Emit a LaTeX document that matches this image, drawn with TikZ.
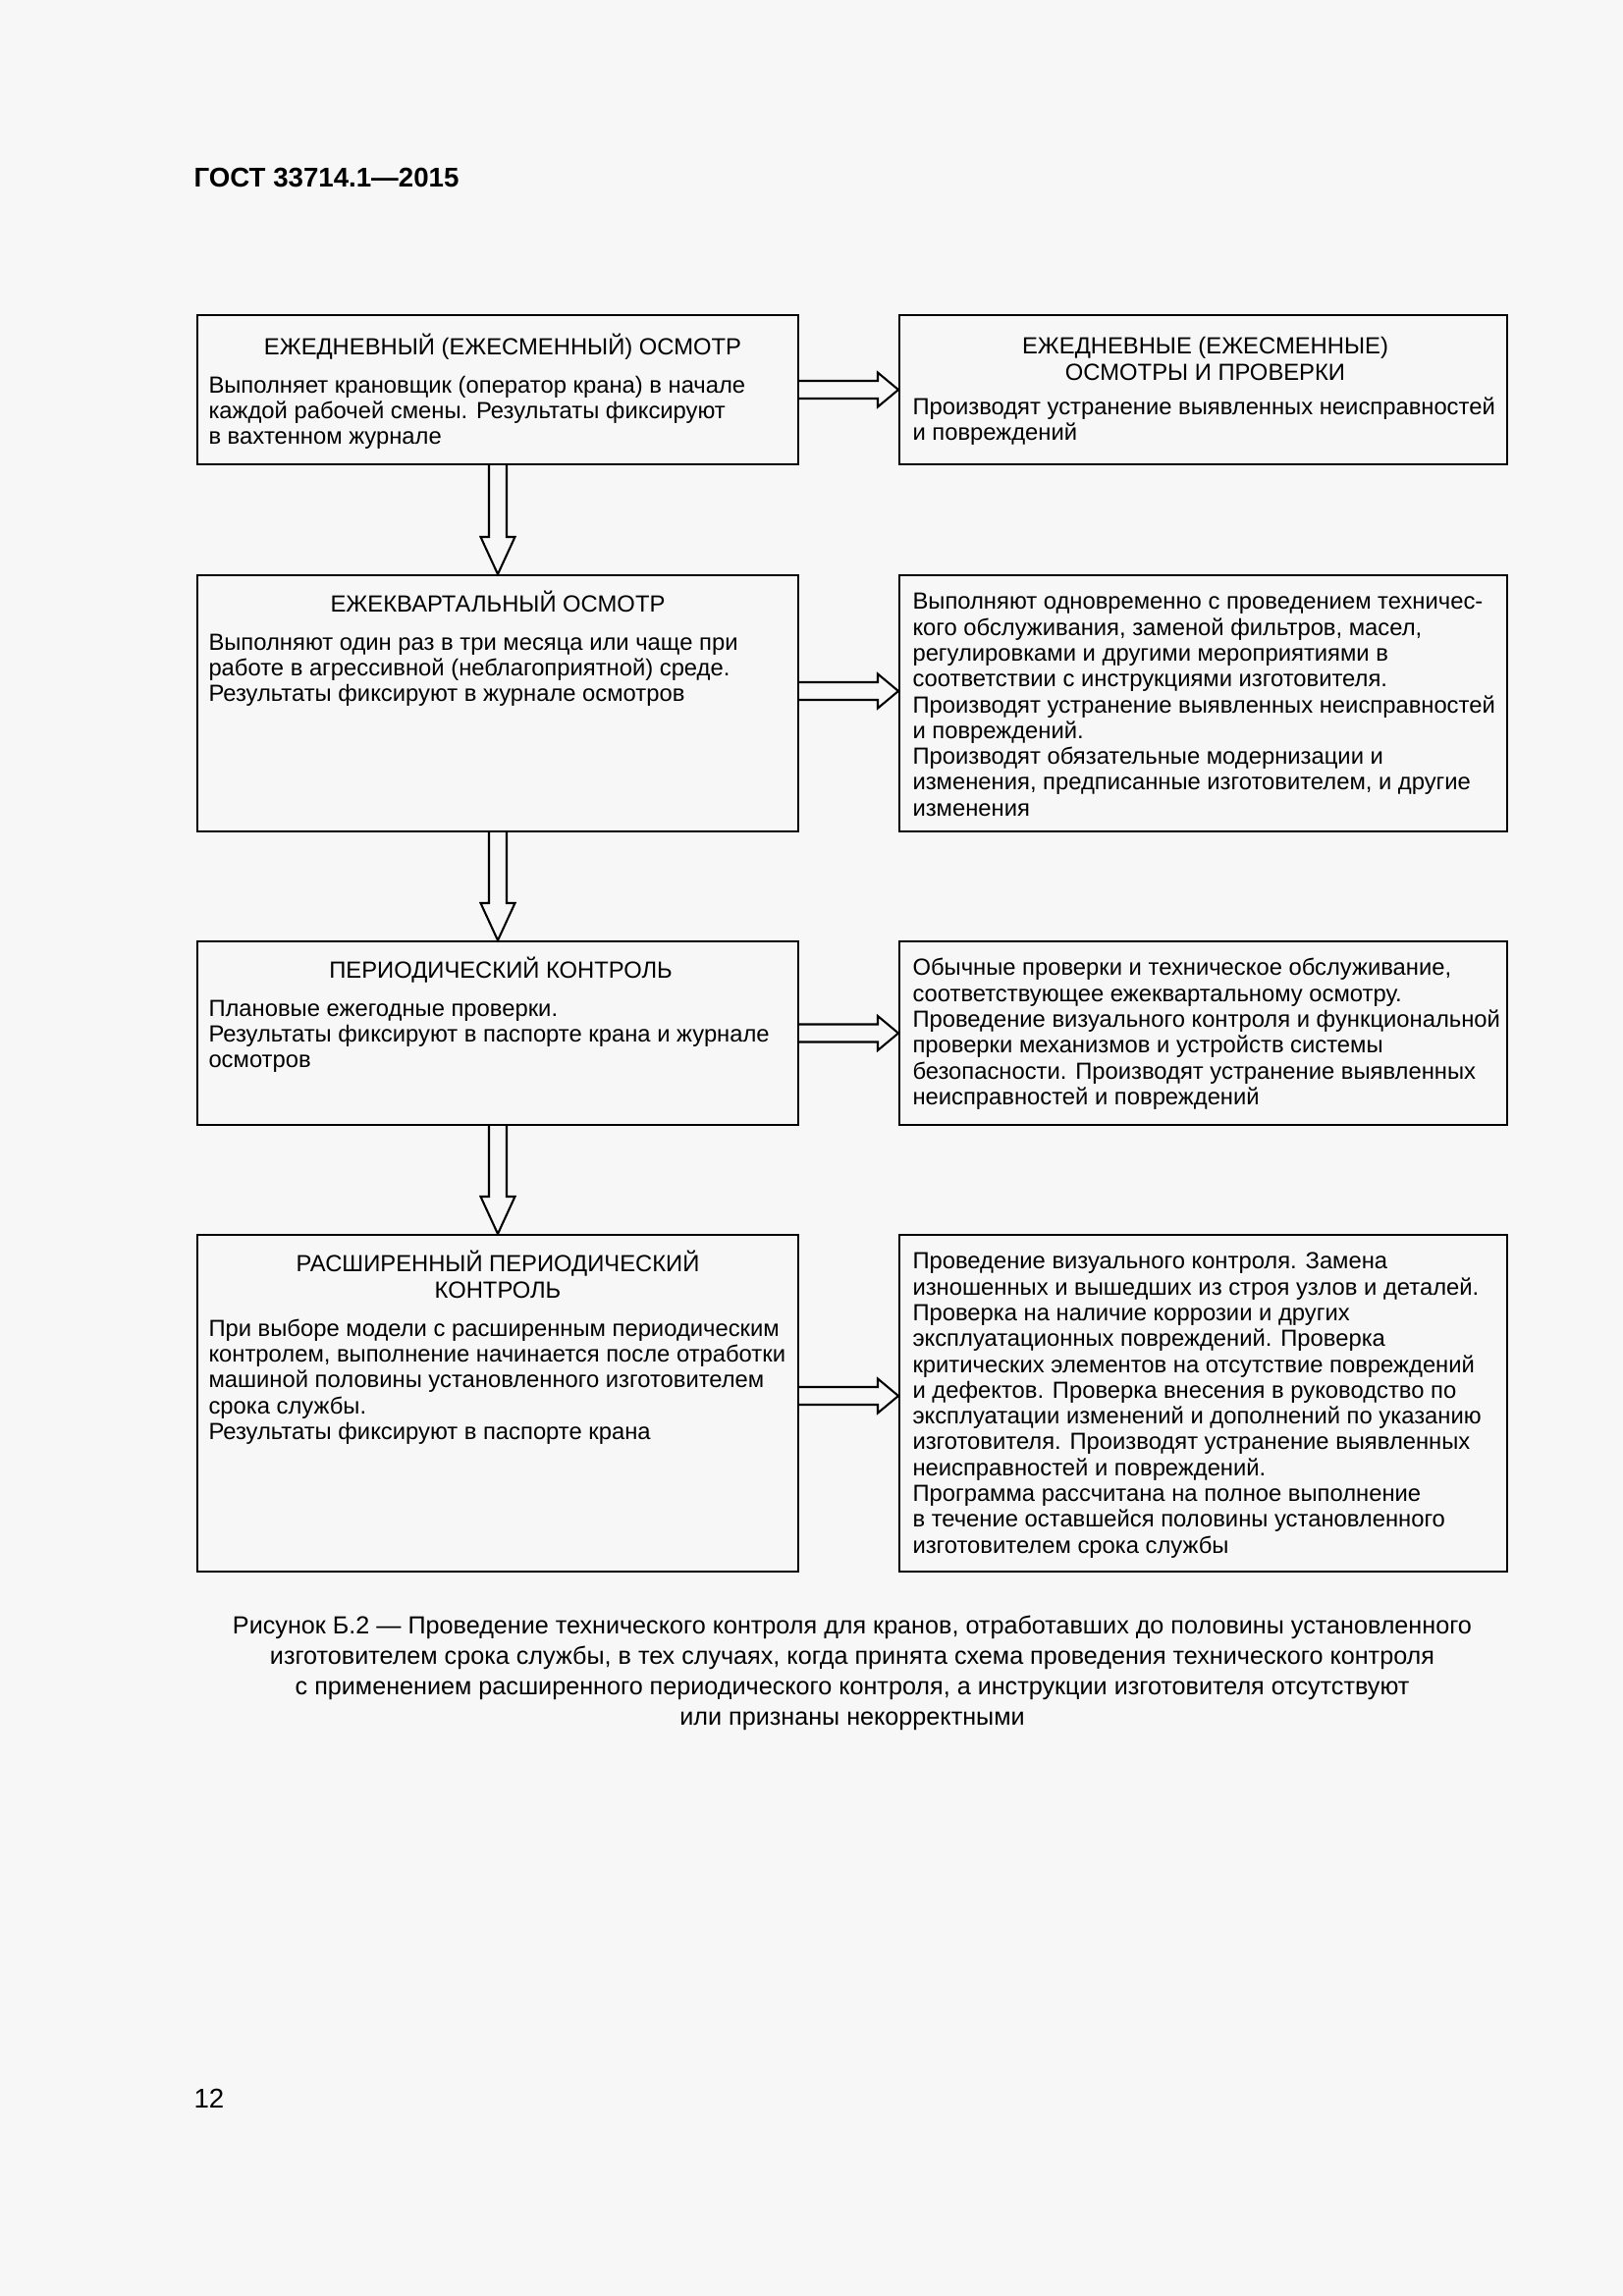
\documentclass[tikz,border=0pt]{standalone}
\usepackage{fontspec}
\setmainfont{Liberation Sans}
\usetikzlibrary{calc,fit}
\definecolor{pagebg}{RGB}{247,247,247}
\newcommand{\boxstrut}{\rule{0pt}{9pt}}
\tikzset{
	box/.style={draw, line width=0.75pt, inner sep=0pt},
	boxtitle/.style={anchor=north, align=center, inner sep=0pt, font=\fontsize{8.6}{9.5}\selectfont},
	boxbody/.style={anchor=north west, align=left, inner sep=0pt, font=\fontsize{8.6}{9.5}\selectfont},
	fatarrow/.style={line width=0.75pt, line join=miter},
}
\begin{document}
\begin{tikzpicture}[x=0.12704mm, y=-0.12704mm]

	\fill[pagebg] (0,0) rectangle (1653,2339);

	\node[anchor=base west, inner sep=0pt, font=\fontsize{10}{12}\selectfont\bfseries] (head) at (197,190.5) {ГОСТ 33714.1—2015};

	% left column
	\node[box, fit={(201,321) (813,473)}] (daily) {};
	\node[box, fit={(201,586) (813,847)}] (quarter) {};
	\node[box, fit={(201,959) (813,1146)}] (period) {};
	\node[box, fit={(201,1258) (813,1601)}] (ext) {};

	% right column
	\node[box, fit={(916,321) (1535,473)}] (dailyR) {};
	\node[box, fit={(916,586) (1535,847)}] (quarterR) {};
	\node[box, fit={(916,959) (1535,1146)}] (periodR) {};
	\node[box, fit={(916,1258) (1535,1601)}] (extR) {};

	\node[boxtitle] (dailyT) at ($(daily.north)+(5,16.5)$) {\boxstrut ЕЖЕДНЕВНЫЙ (ЕЖЕСМЕННЫЙ) ОСМОТР};
	\node[boxbody] (dailyB) at ($(daily.north west)+(12,55)$) {\boxstrut Выполняет крановщик (оператор крана) в начале\\каждой рабочей смены. Результаты фиксируют\\в вахтенном журнале};

	\node[boxtitle] (dailyRT) at ($(dailyR.north)+(2,15.5)$) {\boxstrut ЕЖЕДНЕВНЫЕ (ЕЖЕСМЕННЫЕ)\\ОСМОТРЫ И ПРОВЕРКИ};
	\node[boxbody] (dailyRB) at ($(dailyR.north west)+(14,77)$) {\boxstrut Производят устранение выявленных неисправностей\\и повреждений};

	\node[boxtitle] (quarterT) at ($(quarter.north)+(0,13.5)$) {\boxstrut ЕЖЕКВАРТАЛЬНЫЙ ОСМОТР};
	\node[boxbody] (quarterB) at ($(quarter.north west)+(12,52)$) {\boxstrut Выполняют один раз в три месяца или чаще при\\работе в агрессивной (неблагоприятной) среде.\\Результаты фиксируют в журнале осмотров};

	\node[boxbody] (quarterRB) at ($(quarterR.north west)+(14,10.5)$) {\boxstrut Выполняют одновременно с проведением техничес-\\кого обслуживания, заменой фильтров, масел,\\регулировками и другими мероприятиями в\\соответствии с инструкциями изготовителя.\\Производят устранение выявленных неисправностей\\и повреждений.\\Производят обязательные модернизации и\\изменения, предписанные изготовителем, и другие\\изменения};

	\node[boxtitle] (periodT) at ($(period.north)+(3,13.5)$) {\boxstrut ПЕРИОДИЧЕСКИЙ КОНТРОЛЬ};
	\node[boxbody] (periodB) at ($(period.north west)+(12,52)$) {\boxstrut Плановые ежегодные проверки.\\Результаты фиксируют в паспорте крана и журнале\\осмотров};

	\node[boxbody] (periodRB) at ($(periodR.north west)+(14,10.5)$) {\boxstrut Обычные проверки и техническое обслуживание,\\соответствующее ежеквартальному осмотру.\\Проведение визуального контроля и функциональной\\проверки механизмов и устройств системы\\безопасности. Производят устранение выявленных\\неисправностей и повреждений};

	\node[boxtitle] (extT) at ($(ext.north)+(0,13.5)$) {\boxstrut РАСШИРЕННЫЙ ПЕРИОДИЧЕСКИЙ\\КОНТРОЛЬ};
	\node[boxbody] (extB) at ($(ext.north west)+(12,79)$) {\boxstrut При выборе модели с расширенным периодическим\\контролем, выполнение начинается после отработки\\машиной половины установленного изготовителем\\срока службы.\\Результаты фиксируют в паспорте крана};

	\node[boxbody] (extRB) at ($(extR.north west)+(14,10.5)$) {\boxstrut Проведение визуального контроля. Замена\\изношенных и вышедших из строя узлов и деталей.\\Проверка на наличие коррозии и других\\эксплуатационных повреждений. Проверка\\критических элементов на отсутствие повреждений\\и дефектов. Проверка внесения в руководство по\\эксплуатации изменений и дополнений по указанию\\изготовителя. Производят устранение выявленных\\неисправностей и повреждений.\\Программа рассчитана на полное выполнение\\в течение оставшейся половины установленного\\изготовителем срока службы};

	% down arrows
	\draw[fatarrow] ($(daily.south)+(-9,0)$) -- ($(quarter.north)+(-9,-38)$) -- ($(quarter.north)+(-17.5,-38)$) -- (quarter.north) -- ($(quarter.north)+(17.5,-38)$) -- ($(quarter.north)+(9,-38)$) -- ($(daily.south)+(9,0)$);
	\draw[fatarrow] ($(quarter.south)+(-9,0)$) -- ($(period.north)+(-9,-38)$) -- ($(period.north)+(-17.5,-38)$) -- (period.north) -- ($(period.north)+(17.5,-38)$) -- ($(period.north)+(9,-38)$) -- ($(quarter.south)+(9,0)$);
	\draw[fatarrow] ($(period.south)+(-9,0)$) -- ($(ext.north)+(-9,-38)$) -- ($(ext.north)+(-17.5,-38)$) -- (ext.north) -- ($(ext.north)+(17.5,-38)$) -- ($(ext.north)+(9,-38)$) -- ($(period.south)+(9,0)$);

	% right arrows
	\coordinate (qa) at ($(quarter.east)+(0,-12.5)$);
	\coordinate (qb) at (qa -| quarterR.west);
	\coordinate (ea) at ($(ext.east)+(0,-7.5)$);
	\coordinate (eb) at (ea -| extR.west);
	\draw[fatarrow] ($(daily.east)+(0,-9)$) -- ($(dailyR.west)+(-21,-9)$) -- ($(dailyR.west)+(-21,-17.5)$) -- (dailyR.west) -- ($(dailyR.west)+(-21,17.5)$) -- ($(dailyR.west)+(-21,9)$) -- ($(daily.east)+(0,9)$);
	\draw[fatarrow] ($(qa)+(0,-9)$) -- ($(qb)+(-21,-9)$) -- ($(qb)+(-21,-17.5)$) -- (qb) -- ($(qb)+(-21,17.5)$) -- ($(qb)+(-21,9)$) -- ($(qa)+(0,9)$);
	\draw[fatarrow] ($(period.east)+(0,-9)$) -- ($(periodR.west)+(-21,-9)$) -- ($(periodR.west)+(-21,-17.5)$) -- (periodR.west) -- ($(periodR.west)+(-21,17.5)$) -- ($(periodR.west)+(-21,9)$) -- ($(period.east)+(0,9)$);
	\draw[fatarrow] ($(ea)+(0,-9)$) -- ($(eb)+(-21,-9)$) -- ($(eb)+(-21,-17.5)$) -- (eb) -- ($(eb)+(-21,17.5)$) -- ($(eb)+(-21,9)$) -- ($(ea)+(0,9)$);

	\node[anchor=north, align=center, inner sep=0pt, font=\fontsize{9.1}{11.2}\selectfont] (caption) at (868,1639.5) {\boxstrut Рисунок Б.2 — Проведение технического контроля для кранов, отработавших до половины установленного\\изготовителем срока службы, в тех случаях, когда принята схема проведения технического контроля\\с применением расширенного периодического контроля, а инструкции изготовителя отсутствуют\\или признаны некорректными};

	\node[anchor=base west, inner sep=0pt, font=\fontsize{10}{12}\selectfont] (pagenum) at (197,2147.5) {12};

\end{tikzpicture}
\end{document}
